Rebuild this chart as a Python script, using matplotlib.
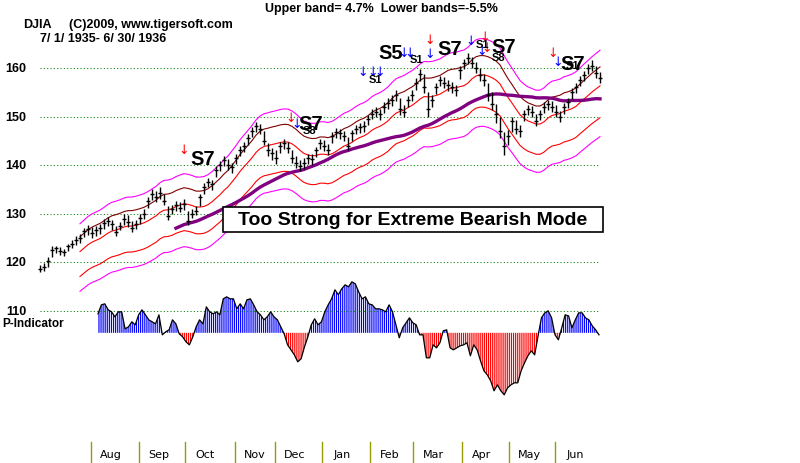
import numpy as np
import pandas as pd
import matplotlib
matplotlib.use("Agg")
import matplotlib.pyplot as plt
from matplotlib.patches import Rectangle

# DJIA 7/1/1935 - 6/30/1936, one bar every ~2 trading days
closes = [118.6, 118.9, 120.3, 122.4, 122.8, 122.2, 122.0, 123.2, 123.8, 124.5,
          125.0, 126.3, 126.8, 126.0, 126.5, 127.0, 128.0, 128.5, 127.8, 126.2,
          127.5, 128.8, 128.3, 127.0, 127.8, 129.0, 130.0, 132.5, 134.0, 133.5,
          134.2, 132.5, 129.5, 131.0, 131.8, 131.2, 132.0, 128.5, 130.0, 130.5,
          133.5, 135.5, 136.5, 136.0, 139.0, 140.0, 141.0, 140.0, 139.5, 141.5,
          143.0, 144.0, 145.5, 147.0, 148.0, 147.5, 145.0, 143.0, 142.5, 141.5,
          144.0, 144.5, 143.5, 141.5, 140.5, 139.8, 140.5, 141.5, 141.2, 143.0,
          144.5, 144.0, 143.0, 146.0, 146.8, 146.5, 146.0, 144.0, 146.5, 147.5,
          147.8, 148.0, 149.5, 150.5, 151.0, 150.5, 152.0, 152.8, 153.5, 154.5,
          151.5, 151.0, 153.5, 154.5, 157.0, 158.8, 156.0, 151.5, 153.5, 156.0,
          157.5, 157.0, 156.5, 156.0, 155.5, 159.5, 161.0, 162.0, 161.0, 160.0,
          158.5, 157.5, 154.5, 152.5, 150.5, 147.0, 144.0, 146.0, 149.0, 147.5,
          147.0, 150.5, 151.5, 151.0, 149.0, 150.5, 152.0, 152.5, 152.0, 151.0,
          150.0, 152.0, 153.0, 155.0, 156.0, 157.5, 158.5, 160.0, 160.5, 159.0,
          158.0]
highs = [119.3, 119.8, 121.0, 123.2, 123.3, 123.0, 122.7, 123.8, 124.6, 125.3,
         125.8, 127.0, 127.6, 127.2, 127.4, 127.8, 128.8, 129.3, 128.6, 127.5,
         128.3, 129.8, 129.6, 128.4, 128.6, 129.8, 131.0, 133.4, 135.0, 134.6,
         135.4, 134.0, 131.6, 131.8, 132.6, 132.3, 132.9, 130.5, 131.0, 131.5,
         134.0, 136.3, 137.4, 136.9, 139.8, 140.8, 141.8, 141.2, 140.5, 142.3,
         143.9, 144.8, 146.4, 147.9, 148.9, 148.5, 147.0, 144.5, 143.6, 143.0,
         144.8, 145.4, 144.8, 143.0, 141.8, 141.0, 141.4, 142.3, 142.2, 143.8,
         145.4, 145.2, 144.3, 146.8, 147.6, 147.5, 147.0, 145.8, 147.3, 148.3,
         148.7, 149.0, 150.4, 151.5, 152.0, 151.6, 152.9, 153.8, 154.5, 155.5,
         153.8, 152.4, 154.3, 155.4, 157.9, 159.9, 158.8, 155.0, 154.4, 156.9,
         158.4, 158.2, 157.6, 157.2, 156.6, 160.5, 161.9, 163.0, 162.3, 161.3,
         160.0, 158.8, 157.0, 155.0, 152.5, 150.0, 146.8, 147.2, 149.8, 149.2,
         148.2, 151.3, 152.4, 152.2, 150.6, 151.3, 152.9, 153.4, 153.2, 152.3,
         151.2, 152.8, 153.9, 155.8, 156.9, 158.4, 159.4, 160.9, 161.6, 160.4,
         159.1]
lows = [117.9, 118.2, 119.0, 121.0, 121.9, 121.5, 121.2, 122.3, 122.8, 123.6,
        124.0, 125.2, 125.5, 125.0, 125.3, 125.8, 126.9, 127.5, 126.5, 125.4,
        126.5, 127.6, 127.2, 126.2, 126.8, 127.9, 128.8, 131.2, 132.8, 132.4,
        133.0, 131.8, 128.6, 129.8, 130.6, 130.3, 130.8, 127.6, 129.0, 129.6,
        131.5, 134.0, 135.5, 134.8, 137.5, 138.8, 139.8, 139.0, 138.4, 140.2,
        141.8, 142.6, 144.2, 145.8, 146.8, 146.3, 144.2, 141.8, 141.0, 140.3,
        142.5, 143.3, 142.4, 140.4, 139.3, 138.8, 139.2, 140.3, 140.0, 141.6,
        143.2, 142.8, 142.0, 144.6, 145.6, 145.4, 144.9, 143.0, 145.0, 146.3,
        146.6, 146.9, 148.2, 149.4, 149.8, 149.3, 150.7, 151.6, 152.2, 153.2,
        150.3, 149.8, 152.0, 153.2, 155.5, 157.4, 154.8, 149.8, 152.0, 154.6,
        156.2, 155.8, 155.3, 154.8, 154.2, 157.8, 159.8, 160.8, 160.0, 158.9,
        157.4, 156.2, 153.2, 151.3, 148.6, 145.5, 142.0, 144.2, 146.8, 146.3,
        145.8, 149.0, 150.3, 149.8, 148.0, 149.3, 150.8, 151.4, 150.9, 149.8,
        148.9, 150.6, 151.8, 153.6, 154.8, 156.2, 157.3, 158.8, 159.4, 158.0,
        157.0]

# P-Indicator (arbitrary units), starting early August
p_ind = [19, 28, 29, 23, 21, 16, 21, 21, 4, 6,
         11, 8, 18, 23, 18, 13, 11, 9, 18, -2,
         1, 3, 13, 9, -1, -4, -9, -12, -4, 6,
         13, 9, 26, 21, 19, 21, 18, 34, 36, 34,
         34, 24, 29, 24, 33, 34, 28, 21, 18, 13,
         16, 21, 16, 13, 6, -1, -12, -17, -22, -29,
         -26, -14, -4, 8, 14, 8, 11, 21, 28, 34,
         43, 38, 44, 48, 46, 51, 49, 41, 34, 36,
         29, 28, 24, 24, 23, 21, 28, 21,
         8, -5, 5, 10, 15, 10, 8, -2, -2, -25,
         -25, -12, -15, -10, 2, 3, -15, -17, -15, -13,
         -12, -10, -23, -12, -17, -28, -38, -42, -48, -58,
         -52, -58, -62, -55, -52, -50, -50, -38, -30, -23,
         -18, -22, -3, 15, 20, 22, 15, -2, -7, 5,
         18, 17, 5, 13, 20, 20, 15, 13, 7, 3, -2]

months = ['Aug', 'Sep', 'Oct', 'Nov', 'Dec', 'Jan', 'Feb', 'Mar', 'Apr', 'May', 'Jun']
month_starts = [12.75, 24.75, 36.25, 48.75, 58.75, 70.5, 82.5, 93.25, 105.5, 117.25, 128.75]
grid_levels = [160, 150, 140, 130, 120, 110]

# signals: bar, price, label
big_sigs = [(37.5, 141.4, 'S7'), (64.5, 148.5, 'S7'), (84.5, 163.1, 'S5'),
            (99.25, 164.1, 'S7'), (112.75, 164.5, 'S7'), (130.0, 161.0, 'S7')]
small_sigs = [(65.75, 147.2, 'S8'), (82.25, 157.7, 'S1'), (92.5, 161.9, 'S1'),
              (109.0, 165.0, 'S1'), (113.0, 162.3, 'S8'), (131.5, 160.6, 'S1')]
red_arrows = [(36.0, 143.1), (62.75, 149.9), (97.5, 165.8), (111.25, 166.4),
              (111.75, 164.3), (128.25, 163.3)]
blue_arrows = [(64.25, 148.5), (80.75, 159.2), (83.25, 159.2), (85.0, 159.2),
               (91.0, 163.3), (92.5, 163.3), (97.5, 162.9), (107.75, 165.6),
               (110.5, 163.7), (129.5, 161.4)]

plt.rcParams['font.family'] = ['Liberation Sans', 'DejaVu Sans']
plt.rcParams['hatch.linewidth'] = 0.85

fig = plt.figure(figsize=(8, 4.64), dpi=100)
ax = fig.add_axes([0, 0, 1, 1])
ax.set_xlim(-10, 190)
ax.set_ylim(78.56, 174.23)
ax.axis('off')

x = np.arange(len(closes))
c = pd.Series(closes)

# grid
ax.hlines(grid_levels, 0, 140, colors='#008000', lw=0.75, linestyles=(0, (1, 2.2)))
for g in grid_levels:
    ax.text(-6, g, str(g), ha='center', va='center', fontsize=9, fontweight='bold')

# bands around 21-day average
ma = c.rolling(11).mean()
ma_long = c.rolling(35).mean()
ax.plot(x, ma * 1.047, color='#ff00ff', lw=0.8)
ax.plot(x, ma * 1.025, color='#800000', lw=0.8)
ax.plot(x, ma, color='#ff0000', lw=0.8)
ax.plot(x, ma * 0.958, color='#ff0000', lw=0.8)
ax.plot(x, ma * 0.933, color='#ff00ff', lw=0.8)
ax.plot(x, ma_long, color='#800080', lw=2.4)

# price bars
ax.vlines(x, lows, highs, color='black', lw=1.0)
ax.hlines(closes, x - 0.55, x + 0.55, color='black', lw=1.0)

# P-Indicator
base = 105.4
scale = 1 / 4.85
px = np.linspace(14.5, 139.75, len(p_ind))
pv = base + np.array(p_ind) * scale
with plt.rc_context({'hatch.color': 'blue'}):
    ax.fill_between(px, base, pv, where=pv >= base, interpolate=True,
                    facecolor='none', edgecolor='blue', hatch='|' * 8, lw=0)
with plt.rc_context({'hatch.color': 'red'}):
    ax.fill_between(px, base, pv, where=pv <= base, interpolate=True,
                    facecolor='none', edgecolor='red', hatch='|' * 8, lw=0)
ax.plot(px, pv, color='black', lw=0.9)
fig.text(2 / 800, 1 - 324 / 464, 'P-Indicator', fontsize=8.5, fontweight='bold',
         va='center', ha='left')

# signals
for sx, sy in red_arrows:
    ax.text(sx, sy, '\u2193', color='red', fontsize=9, ha='center', va='center',
            family='DejaVu Sans')
for sx, sy in blue_arrows:
    ax.text(sx, sy, '\u2193', color='blue', fontsize=9, ha='center', va='center',
            family='DejaVu Sans')
for sx, sy, s in big_sigs:
    ax.text(sx, sy, s, fontsize=14.5, fontweight='bold', ha='left', va='center')
for sx, sy, s in small_sigs:
    ax.text(sx, sy, s, fontsize=8, fontweight='bold', ha='left', va='center')

# mode box
fig.patches.append(Rectangle((223 / 800, 1 - 233 / 464), 380 / 800, 25 / 464,
                             transform=fig.transFigure, facecolor='white',
                             edgecolor='black', lw=1.2, zorder=5))
fig.text(413 / 800, 1 - 221 / 464, 'Too Strong for Extreme Bearish Mode',
         fontsize=14, fontweight='bold', ha='center', va='center', zorder=6)

# header
fig.text(265 / 800, 1 - 9 / 464, 'Upper band= 4.7%  Lower bands=-5.5%',
         fontsize=9, fontweight='bold', va='center')
fig.text(23 / 800, 1 - 25 / 464, 'DJIA', fontsize=9, fontweight='bold', va='center')
fig.text(69 / 800, 1 - 25 / 464, '(C)2009, www.tigersoft.com', fontsize=9,
         fontweight='bold', va='center')
fig.text(40 / 800, 1 - 39 / 464, '7/ 1/ 1935- 6/ 30/ 1936', fontsize=9,
         fontweight='bold', va='center')

# months
for m, ms in zip(months, month_starts):
    ax.axvline(ms, 0, 21 / 464, color='#999900', lw=1)
    ax.text(ms + 5, 0.019, m, transform=ax.get_xaxis_transform(), ha='center',
            va='center', fontsize=8, family=['Liberation Sans Narrow', 'DejaVu Sans'])

fig.savefig('out.png', dpi=100)
